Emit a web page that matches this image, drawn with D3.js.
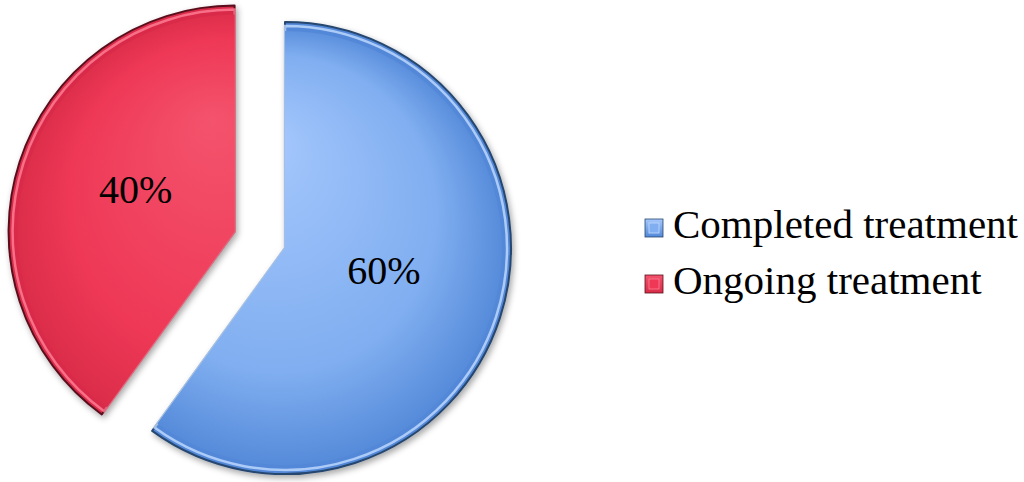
<!DOCTYPE html>
<html>
<head>
  <meta charset="UTF-8" />
  <style>
    html, body { margin: 0; padding: 0; background: #fff; }
    svg { display: block; }
  </style>
</head>
<body>
  <svg width="1024" height="482"></svg>
  <script src="https://d3js.org/d3.v7.min.js"></script>
  <script>
    const categories = ["Completed treatment", "Ongoing treatment"];
    const values = [60, 40];
    const labels = ["60%", "40%"];
    const exploded = [false, true];

    const cx = 285, cy = 248, r = 226, explodeDist = 53;
    const serif = "\"Times New Roman\", \"Liberation Serif\", Tinos, FreeSerif, serif";

    // face / rim colours per slice
    const palette = [
      { light: "#a6c8fd", mid: "#80aef0", dark: "#5288d8", rim: "#25466f", hi: "#c3dcff" },
      { light: "#f4536d", mid: "#ee3856", dark: "#d92c48", rim: "#5a0f1c", hi: "#ff8197" }
    ];

    const svg = d3.select("svg");
    const defs = svg.append("defs");

    const shadow = defs.append("filter").attr("id", "shadow")
      .attr("x", "-10%").attr("y", "-10%").attr("width", "130%").attr("height", "130%");
    shadow.append("feDropShadow").attr("dx", 2).attr("dy", 3).attr("stdDeviation", 3)
      .attr("flood-color", "#000").attr("flood-opacity", 0.35);

    palette.forEach((p, i) => {
      const g = defs.append("radialGradient").attr("id", "face" + i)
        .attr("gradientUnits", "userSpaceOnUse")
        .attr("cx", 0).attr("cy", 0).attr("r", r)
        .attr("fx", -r * 0.1).attr("fy", -r * 0.5);
      g.append("stop").attr("offset", "0%").attr("stop-color", p.light);
      g.append("stop").attr("offset", "70%").attr("stop-color", p.mid);
      g.append("stop").attr("offset", "100%").attr("stop-color", p.dark);

      const lg = defs.append("linearGradient").attr("id", "legend" + i)
        .attr("x1", 0).attr("y1", 0).attr("x2", 0).attr("y2", 1);
      lg.append("stop").attr("offset", "0%").attr("stop-color", p.light);
      lg.append("stop").attr("offset", "100%").attr("stop-color", p.dark);
    });

    const pie = d3.pie().sort(null).value(d => d);
    const arcs = pie(values);
    const arc = d3.arc().innerRadius(0).outerRadius(r);
    const innerArc = d3.arc().innerRadius(0).outerRadius(r - 9);
    const labelArc = d3.arc().innerRadius(r * 0.46).outerRadius(r * 0.46);

    const slices = svg.append("g")
      .selectAll("g")
      .data(arcs)
      .join("g")
      .attr("transform", (d, i) => {
        let x = cx, y = cy;
        if (exploded[i]) {
          const a = (d.startAngle + d.endAngle) / 2;
          x += Math.sin(a) * explodeDist;
          y -= Math.cos(a) * explodeDist;
        }
        return `translate(${x},${y})`;
      });

    // base with dark rim
    slices.append("path")
      .attr("d", arc)
      .attr("fill", (d, i) => palette[i].dark)
      .attr("stroke", (d, i) => palette[i].rim)
      .attr("stroke-width", 2)
      .attr("stroke-linejoin", "round")
      .attr("filter", "url(#shadow)");

    // light bevel line
    slices.append("path")
      .attr("d", d3.arc().innerRadius(0).outerRadius(r - 4))
      .attr("fill", "none")
      .attr("stroke", (d, i) => palette[i].hi)
      .attr("stroke-width", 2.5)
      .attr("opacity", 0.8);

    // inner face
    slices.append("path")
      .attr("d", innerArc)
      .attr("fill", (d, i) => `url(#face${i})`);

    slices.append("text")
      .style("font-family", serif)
      .style("font-size", "40px")
      .attr("text-anchor", "middle")
      .attr("fill", "#000")
      .attr("transform", d => {
        const [x, y] = labelArc.centroid(d);
        return `translate(${x},${y + 4})`;
      })
      .text((d, i) => labels[i]);

    // legend
    const legend = svg.append("g")
      .attr("transform", "translate(645,228)");

    const item = legend.selectAll("g")
      .data(categories)
      .join("g")
      .attr("transform", (d, i) => `translate(0,${i * 56})`);

    item.append("rect")
      .attr("x", 0).attr("y", -9)
      .attr("width", 18).attr("height", 18)
      .attr("fill", (d, i) => `url(#legend${i})`)
      .attr("stroke", (d, i) => palette[i].rim)
      .attr("stroke-width", 0.8);

    item.append("rect")
      .attr("x", 4).attr("y", -5)
      .attr("width", 10).attr("height", 10)
      .attr("fill", (d, i) => palette[i].mid)
      .attr("stroke", (d, i) => palette[i].hi)
      .attr("stroke-width", 0.8);

    item.append("text")
      .attr("x", 28)
      .attr("y", 10)
      .attr("fill", "#000")
      .style("font-family", serif)
      .style("font-size", "41px")
      .text(d => d);
  </script>
</body>
</html>
